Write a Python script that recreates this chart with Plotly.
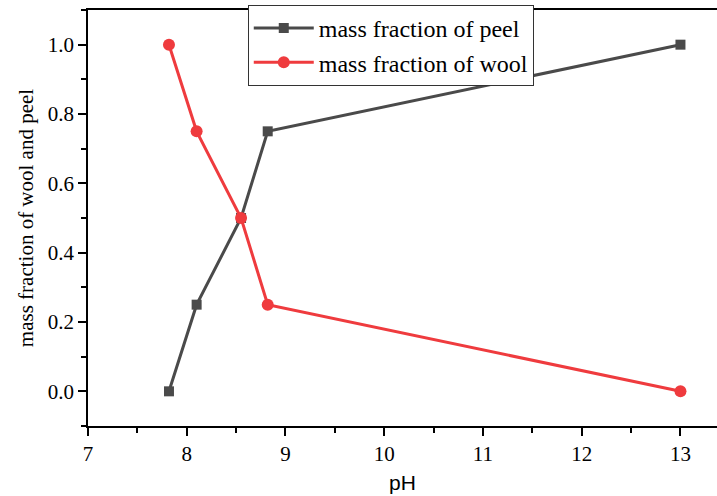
import plotly.graph_objects as go

ph = [7.82, 8.1, 8.55, 8.82, 13.0]
peel = [0.0, 0.25, 0.5, 0.75, 1.0]
wool = [1.0, 0.75, 0.5, 0.25, 0.0]

x_ticks = [7, 8, 9, 10, 11, 12, 13]
y_ticks = [0.0, 0.2, 0.4, 0.6, 0.8, 1.0]
y_labels = ["0.0", "0.2", "0.4", "0.6", "0.8", "1.0"]

fig = go.Figure()
fig.add_trace(go.Scatter(
    x=ph, y=peel, mode="lines+markers", name="mass fraction of peel",
    line=dict(color="#4a4a4a", width=3),
    marker=dict(symbol="square", size=10, color="#4a4a4a"),
))
fig.add_trace(go.Scatter(
    x=ph, y=wool, mode="lines+markers", name="mass fraction of wool",
    line=dict(color="#ef3b3e", width=3),
    marker=dict(symbol="circle", size=12, color="#ef3b3e"),
))

serif = "Liberation Serif"
fig.update_layout(
    width=717, height=496,
    margin=dict(l=88, r=0, t=10, b=70),
    paper_bgcolor="white", plot_bgcolor="white",
    showlegend=True,
    legend=dict(
        x=0.254, y=1.012, xanchor="left", yanchor="top",
        font=dict(family=serif, size=24, color="black"),
        bordercolor="#333333", borderwidth=1, bgcolor="white",
        tracegroupgap=0, itemwidth=60,
    ),
    xaxis=dict(
        range=[7, 13.37], tickvals=x_ticks,
        showgrid=False, zeroline=False,
        showline=True, linecolor="black", linewidth=1.5, mirror=True,
        ticks="outside", ticklen=8, tickwidth=1.5, tickcolor="black",
        minor=dict(dtick=0.5, ticks="outside", ticklen=5, tickwidth=1.5, tickcolor="black"),
        tickfont=dict(family=serif, size=21, color="black"),
        title=dict(text="pH", font=dict(family="Liberation Sans", size=21, color="black"), standoff=10),
    ),
    yaxis=dict(
        range=[-0.1, 1.1], tickvals=y_ticks, ticktext=y_labels,
        showgrid=False, zeroline=False,
        showline=True, linecolor="black", linewidth=1.5,
        ticks="outside", ticklen=8, tickwidth=1.5, tickcolor="black",
        minor=dict(dtick=0.1, ticks="outside", ticklen=5, tickwidth=1.5, tickcolor="black"),
        tickfont=dict(family=serif, size=21, color="black"),
        title=dict(text="mass fraction of wool and peel", font=dict(family=serif, size=21, color="black"), standoff=8),
    ),
)

fig.write_html("out.html")
